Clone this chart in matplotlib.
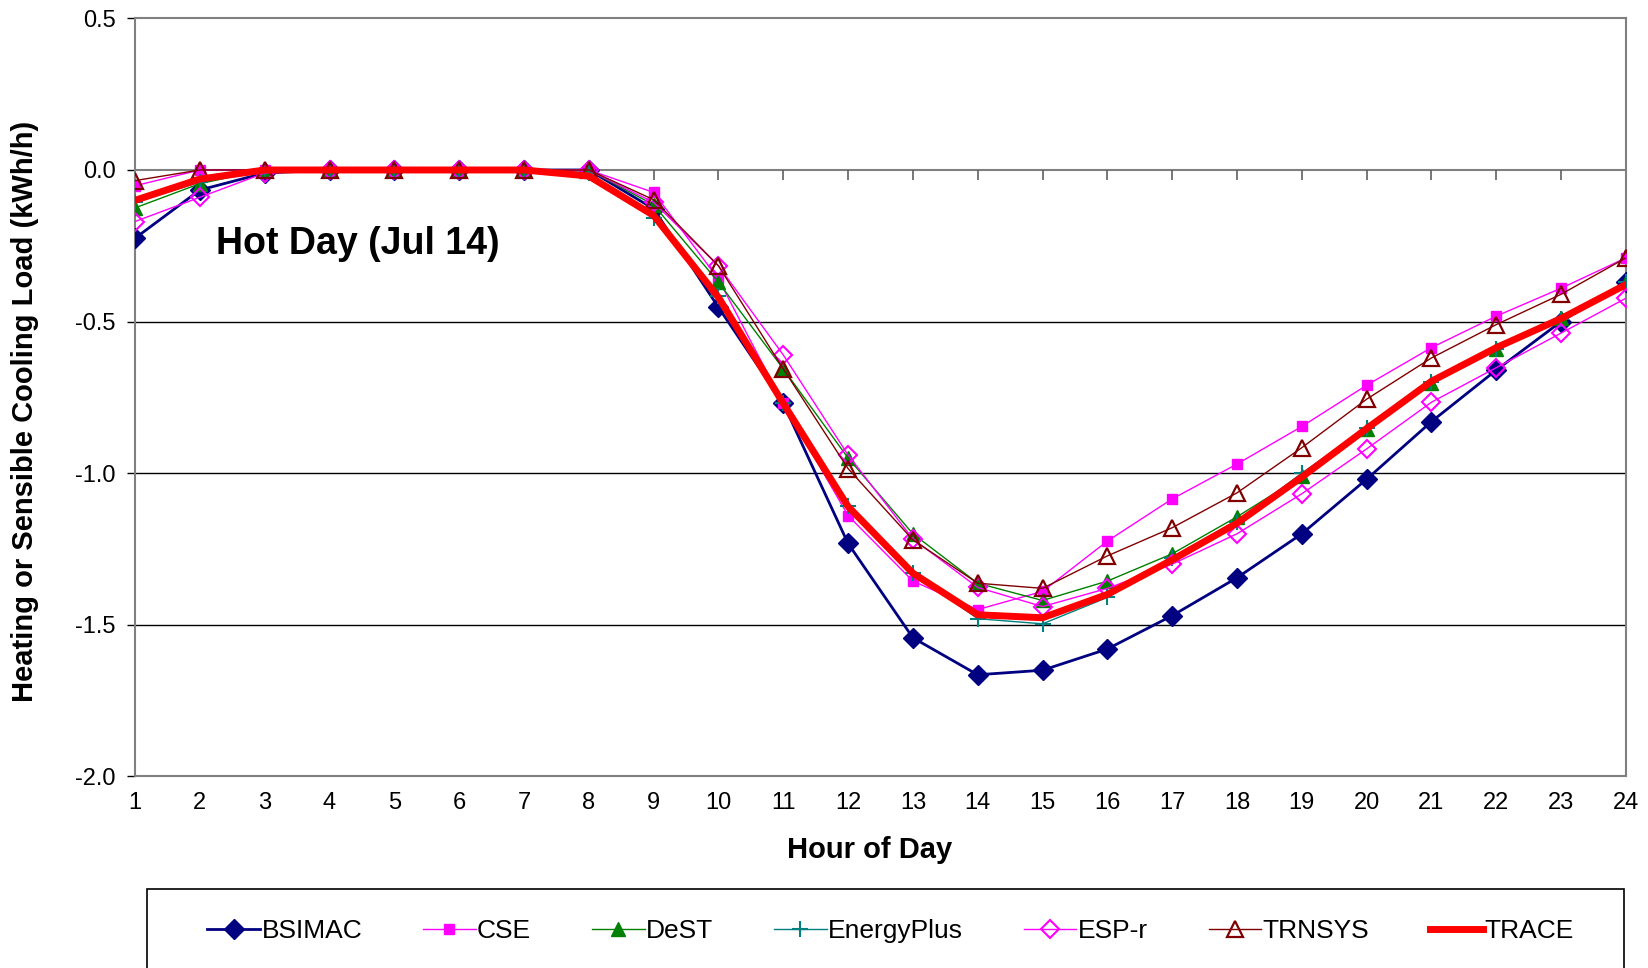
import numpy as np
import matplotlib
matplotlib.use("Agg")
from matplotlib import pyplot as plt
from matplotlib.patches import Rectangle
from matplotlib.markers import TICKDOWN

plt.rcParams['font.family'] = ['Liberation Sans', 'DejaVu Sans']

hours = list(range(1, 25))

bsimac = [-0.225, -0.066, -0.01, 0, 0, 0, 0, 0, -0.128, -0.453, -0.77, -1.232,
          -1.543, -1.665, -1.65, -1.58, -1.47, -1.345, -1.2, -1.02, -0.83, -0.66, -0.5, -0.37]
cse = [-0.052, 0, 0, 0, 0, 0, 0, 0, -0.074, -0.36, -0.77, -1.14,
       -1.356, -1.45, -1.39, -1.224, -1.085, -0.97, -0.846, -0.71, -0.586, -0.482, -0.39, -0.29]
dest = [-0.125, -0.045, 0, 0, 0, 0, 0, 0, -0.115, -0.37, -0.656, -0.95,
        -1.2, -1.363, -1.42, -1.356, -1.266, -1.144, -1.01, -0.853, -0.704, -0.59, -0.487, -0.37]
eplus = [-0.107, -0.04, 0, 0, 0, 0, 0, -0.01, -0.16, -0.415, -0.77, -1.107,
         -1.33, -1.48, -1.497, -1.41, -1.28, -1.16, -1.0, -0.85, -0.7, -0.59, -0.49, -0.37]
espr = [-0.17, -0.09, -0.01, 0, 0, 0, 0, 0, -0.107, -0.316, -0.61, -0.94,
        -1.217, -1.377, -1.44, -1.38, -1.3, -1.2, -1.068, -0.92, -0.766, -0.652, -0.538, -0.423]
trnsys = [-0.035, 0, 0, 0, 0, 0, 0, 0, -0.098, -0.316, -0.656, -0.985,
          -1.22, -1.363, -1.38, -1.273, -1.18, -1.065, -0.916, -0.756, -0.62, -0.51, -0.41, -0.29]
trace = [-0.1, -0.03, 0, 0, 0, 0, 0, -0.02, -0.15, -0.42, -0.77, -1.11,
         -1.33, -1.467, -1.477, -1.4, -1.286, -1.165, -1.013, -0.853, -0.697, -0.586, -0.49, -0.378]

fig = plt.figure(figsize=(16.49, 9.68), dpi=100)
ax = fig.add_axes([0.0819, 0.198, 0.9041, 0.783])

# gridlines
for yv in [-0.5, -1.0, -1.5]:
    ax.axhline(yv, color='black', lw=1.0, zorder=1)
# zero line acts as the category axis, ticks hang below it
ax.axhline(0, color='#808080', lw=1.5, zorder=1)
ax.plot(hours, np.zeros(len(hours)), ls='none', marker=TICKDOWN, ms=7, mew=1.2,
        color='#606060', zorder=1.5)

ax.plot(hours, bsimac, color='#000080', lw=2, marker='D', ms=10, label='BSIMAC', zorder=3)
ax.plot(hours, cse, color='#FF00FF', lw=1, marker='s', ms=7, label='CSE', zorder=3)
ax.plot(hours, dest, color='#008000', lw=1, marker='^', ms=10, label='DeST', zorder=3)
ax.plot(hours, eplus, color='#008080', lw=1, marker='+', ms=12, mew=1.5, label='EnergyPlus', zorder=3)
ax.plot(hours, espr, color='#FF00FF', lw=1, marker='D', ms=9, mfc='none', mew=1.5, label='ESP-r', zorder=3)
ax.plot(hours, trnsys, color='#800000', lw=1, marker='^', ms=12, mfc='none', mew=1.6, label='TRNSYS', zorder=3)
ax.plot(hours, trace, color='#FF0000', lw=5, label='TRACE', zorder=4)

ax.set_xlim(1, 24)
ax.set_ylim(-2.0, 0.5)
ax.set_xticks(hours)
ax.set_yticks(np.arange(-2.0, 0.51, 0.5))
ax.set_yticklabels(['%.1f' % v for v in np.arange(-2.0, 0.51, 0.5)])
ax.tick_params(axis='y', direction='out', length=6, width=1, colors='black', labelsize=17, pad=8)
ax.tick_params(axis='x', length=0, labelsize=17, pad=11)

for s in ax.spines.values():
    s.set_color('#808080')
    s.set_linewidth(1.5)

ax.set_xlabel('Hour of Day', fontsize=21, fontweight='bold')
ax.xaxis.set_label_coords(0.493, -0.079)
ax.set_ylabel('Heating or Sensible Cooling Load (kWh/h)', fontsize=21, fontweight='bold')
ax.yaxis.set_label_coords(-0.0644, 0.481)

ax.text(2.25, -0.243, 'Hot Day (Jul 14)', fontsize=27, fontweight='bold', va='center', ha='left')

# legend box
fig.patches.append(Rectangle((0.0891, -0.05), 0.896, 0.1316, transform=fig.transFigure,
                             fill=False, edgecolor='black', lw=1.2))
h, l = ax.get_legend_handles_labels()
fig.legend(h, l, loc='center', bbox_to_anchor=(0.540, 0.038), ncol=7,
           frameon=False, fontsize=19, handlelength=2.0, columnspacing=2.3, handletextpad=0.05)

plt.savefig('out.png', dpi=100)
